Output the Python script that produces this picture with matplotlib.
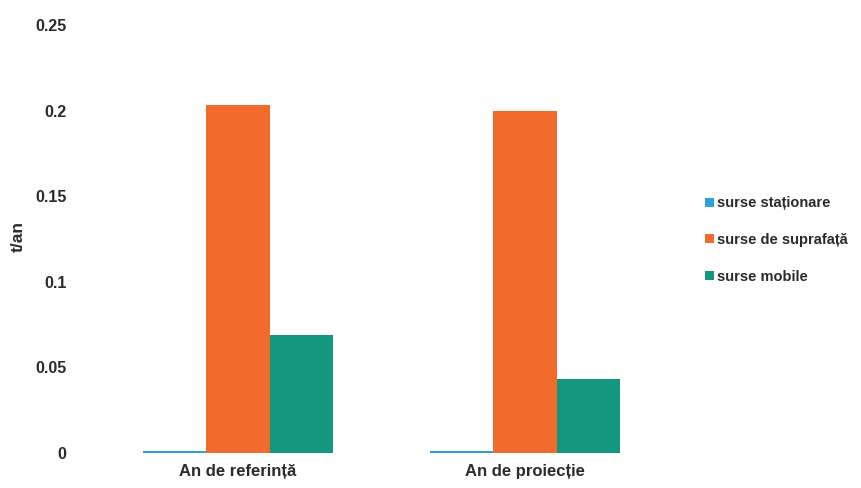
import matplotlib
import matplotlib.pyplot as plt
import numpy as np

matplotlib.use('AGG')

# Datos
categorii = ["An de referință", "An de proiecție"]
serii = ["surse staționare", "surse de suprafață", "surse mobile"]
stationare = [0.001, 0.001]
suprafata = [0.203, 0.200]
mobile = [0.069, 0.043]
yticks = [0, 0.05, 0.1, 0.15, 0.2, 0.25]
ytick_labels = ["0", "0.05", "0.1", "0.15", "0.2", "0.25"]

culori = ["#2F9FD8", "#F26A2C", "#13977F"]
TEXT_COLOR = "#2b2b2b"

plt.rcParams['font.family'] = ['Liberation Sans', 'DejaVu Sans']

fig = plt.figure(figsize=(8.61, 4.88), dpi=100)
ax = fig.add_axes([94.5 / 861, (488 - 453) / 488, (668.5 - 94.5) / 861, (453 - 25) / 488])

x = np.arange(len(categorii))
w = 0.22
valori = [stationare, suprafata, mobile]
for i, (nume, vals) in enumerate(zip(serii, valori)):
    ax.bar(x + (i - 1) * w, vals, width=w, color=culori[i], label=nume,
           edgecolor="none")

ax.set_xlim(-0.5, 1.5)
ax.set_ylim(0, 0.25)
ax.set_yticks(yticks)
ax.set_yticklabels(ytick_labels, fontsize=11.5, fontweight='bold', color=TEXT_COLOR)
ax.set_xticks(x)
ax.set_xticklabels(categorii, fontsize=12, fontweight='bold', color=TEXT_COLOR)
ax.tick_params(axis='y', length=0, pad=20)
ax.tick_params(axis='x', length=0, pad=8)
for s in ax.spines.values():
    s.set_visible(False)

fig.text(18 / 861, 1 - 237 / 488, "t/an", rotation=90, ha='center', va='center',
         fontsize=12.5, fontweight='bold', color=TEXT_COLOR)

leg = ax.legend(loc='center left', bbox_to_anchor=(692 / 861, 1 - 240 / 488),
                bbox_transform=fig.transFigure, frameon=False,
                fontsize=10.5, handlelength=0.6, handleheight=0.6,
                handletextpad=0.2, labelspacing=1.55)
for t in leg.get_texts():
    t.set_fontweight('bold')
    t.set_color(TEXT_COLOR)

plt.savefig("out.png", dpi=100)
plt.close(fig)
